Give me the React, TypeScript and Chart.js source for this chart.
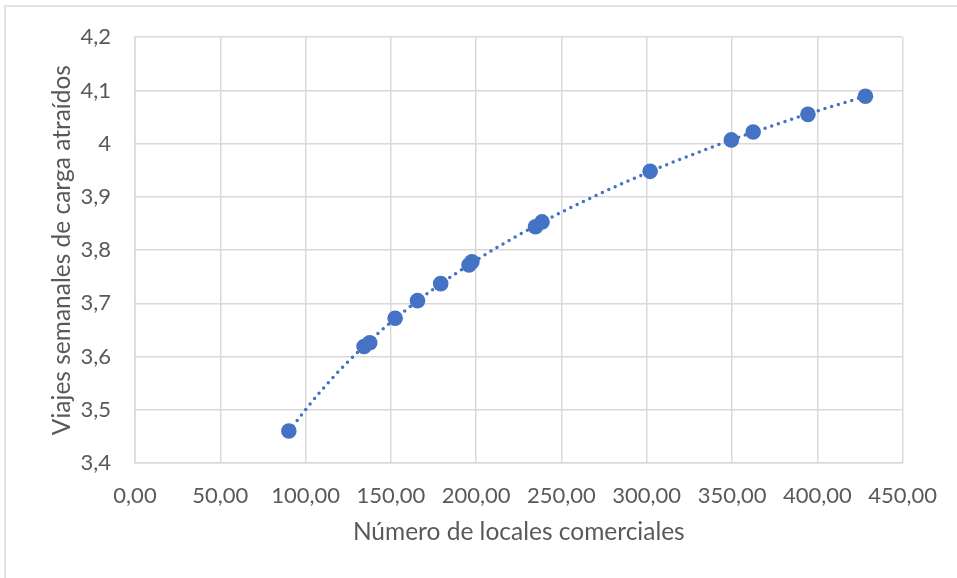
import React, { useEffect, useRef } from "react";
import { Chart, registerables } from "chart.js";

Chart.register(...registerables);

// Number of commercial premises (x) and weekly freight trips attracted (y)
const localesComerciales = [90.2, 134.3, 137.6, 152.5, 165.6, 179.2, 195.8, 197.5, 234.8, 238.6, 302.0, 349.6, 362.4, 394.5, 428.2];
const viajesSemanales = [3.460, 3.619, 3.626, 3.672, 3.705, 3.737, 3.772, 3.778, 3.844, 3.853, 3.948, 4.007, 4.022, 4.055, 4.089];

const xTickLabels = ["0,00", "50,00", "100,00", "150,00", "200,00", "250,00", "300,00", "350,00", "400,00", "450,00"];
const yTickLabels = ["3,4", "3,5", "3,6", "3,7", "3,8", "3,9", "4", "4,1", "4,2"];

const xTitle = "Número de locales comerciales";
const yTitle = "Viajes semanales de carga atraídos";

const FONT = "Lato, 'Open Sans', sans-serif";
const TEXT = "#595959";
const GRID = "#d9d9d9";
const BLUE = "#4472C4";

// Logarithmic least-squares trendline computed from the data (as Excel does)
function logTrend(xs: number[], ys: number[], samples: number) {
  const n = xs.length;
  const lx = xs.map((v) => Math.log(v));
  const mx = lx.reduce((a, b) => a + b, 0) / n;
  const my = ys.reduce((a, b) => a + b, 0) / n;
  let sxy = 0, sxx = 0;
  for (let i = 0; i < n; i++) {
    sxy += (lx[i] - mx) * (ys[i] - my);
    sxx += (lx[i] - mx) * (lx[i] - mx);
  }
  const a = sxy / sxx;
  const b = my - a * mx;
  const x0 = Math.min(...xs);
  const x1 = Math.max(...xs);
  const pts: { x: number; y: number }[] = [];
  for (let i = 0; i <= samples; i++) {
    const x = x0 + ((x1 - x0) * i) / samples;
    pts.push({ x, y: a * Math.log(x) + b });
  }
  return pts;
}

export default function App() {
  const canvasRef = useRef<HTMLCanvasElement | null>(null);

  useEffect(() => {
    const canvas = canvasRef.current;
    if (!canvas) return;
    const points = localesComerciales.map((x, i) => ({ x, y: viajesSemanales[i] }));
    const trend = logTrend(localesComerciales, viajesSemanales, 80);

    const chart = new Chart(canvas, {
      type: "scatter",
      data: {
        datasets: [
          {
            label: "Datos",
            data: points,
            backgroundColor: BLUE,
            borderColor: BLUE,
            borderWidth: 0,
            pointRadius: 7.8,
            pointHoverRadius: 7.8,
            order: 0,
          },
          {
            type: "line",
            label: "Tendencia",
            data: trend,
            borderColor: BLUE,
            borderWidth: 3.5,
            borderDash: [0, 7],
            borderCapStyle: "round",
            pointRadius: 0,
            fill: false,
            tension: 0,
            order: 1,
          } as any,
        ],
      },
      options: {
        animation: false,
        responsive: false,
        maintainAspectRatio: false,
        layout: { padding: { top: 33, right: 50, left: 0, bottom: 0 } },
        plugins: {
          legend: { display: false },
          tooltip: { enabled: false },
        },
        scales: {
          x: {
            type: "linear",
            min: 0,
            max: 450,
            afterFit: (s: any) => {
              s.height = 115;
            },
            ticks: {
              stepSize: 50,
              color: TEXT,
              padding: 20,
              maxRotation: 0,
              font: { family: FONT, size: 22 },
              callback: (v: any) => {
                const idx = Math.round(Number(v) / 50);
                return xTickLabels[idx] ?? "";
              },
            },
            grid: { color: GRID, lineWidth: 1.5, drawTicks: false },
            border: { display: true, color: GRID, width: 1.5 },
            title: {
              display: true,
              text: xTitle,
              color: TEXT,
              font: { family: FONT, size: 24.5 },
              padding: { top: 0, bottom: 31 },
            },
          },
          y: {
            type: "linear",
            min: 3.4,
            max: 4.2,
            afterFit: (s: any) => {
              s.width = 135;
            },
            ticks: {
              stepSize: 0.1,
              color: TEXT,
              padding: 24,
              font: { family: FONT, size: 22 },
              callback: (v: any) => {
                const idx = Math.round((Number(v) - 3.4) / 0.1);
                return yTickLabels[idx] ?? "";
              },
            },
            grid: { color: GRID, lineWidth: 1.5, drawTicks: false },
            border: { display: true, color: GRID, width: 1.5 },
            title: {
              display: true,
              text: yTitle,
              color: TEXT,
              font: { family: FONT, size: 24.5 },
              padding: { top: 47, bottom: 0 },
            },
          },
        },
      },
    });
    return () => chart.destroy();
  }, []);

  return (
    <div style={{ position: "fixed", left: 0, top: 0, width: 957, height: 578, background: "#fff", overflow: "hidden" }}>
      <div
        style={{
          position: "absolute",
          left: 4,
          top: 5,
          width: 1000,
          height: 700,
          border: "2px solid #e2e2e2",
          boxSizing: "border-box",
        }}
      />
      <canvas ref={canvasRef} width={957} height={578} style={{ position: "absolute", left: 0, top: 0, width: 957, height: 578 }} />
    </div>
  );
}
